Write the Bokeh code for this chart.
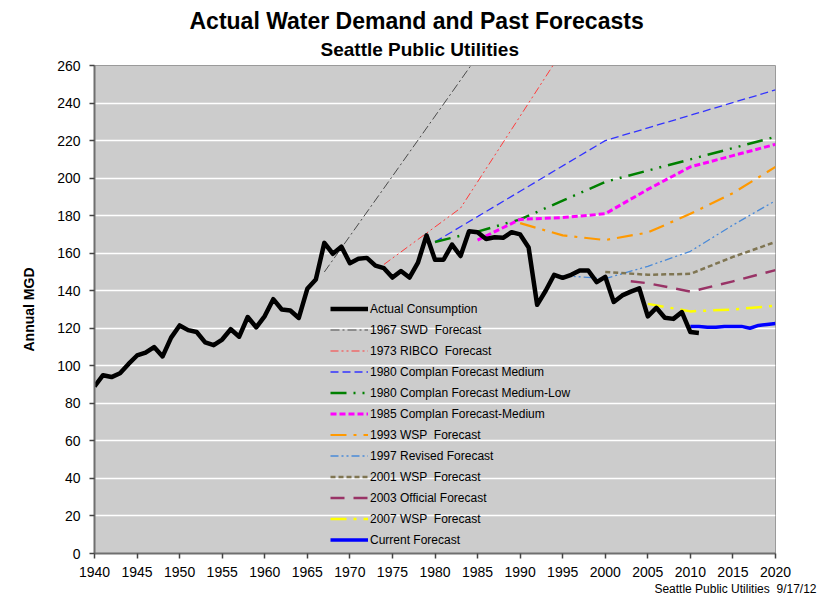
from bokeh.plotting import figure
from bokeh.models import Title, Legend, LegendItem, SingleIntervalTicker, Range1d
from bokeh.embed import file_html
from bokeh.resources import INLINE

# ---------------- data ----------------
actual_years = list(range(1940, 2012))
actual_mgd = [89, 95, 94, 96, 101, 105.5, 107, 110, 105, 115,
              121.5, 119, 118, 112.5, 111, 114, 119.5, 115.5, 126, 120.5,
              126.5, 135.5, 130, 129.5, 125.5, 141, 146, 165.5, 159.7, 163.5,
              154.7, 157, 157.5, 153.4, 152, 147, 150.5, 147, 155, 169.5,
              156.5, 156.5, 164.6, 158.5, 171.7, 171.2, 167.6, 168.5, 168.2, 171.2,
              170, 163, 132.5, 140, 148.5, 146.9, 148.5, 150.8, 150.8, 144.6,
              147.4, 134, 137.5, 139.5, 141.3, 126.3, 130.9, 125.6, 125, 128.6,
              118, 117.5]

swd1967_years = [1967, 1975, 1985]
swd1967_mgd = [150, 201, 265]

ribco1973_years = [1974, 1983, 1990, 2000]
ribco1973_mgd = [154, 184, 233, 303]

complan80m_years = [1980, 1990, 2000, 2010, 2020]
complan80m_mgd = [166, 193, 220, 233.5, 247]

complan80ml_years = [1980, 1985, 1990, 1995, 2000, 2005, 2010, 2015, 2020]
complan80ml_mgd = [166, 171.5, 178, 188, 198, 204, 210, 216, 222]

complan85_years = [1985, 1990, 1995, 2000, 2005, 2010, 2015, 2020]
complan85_mgd = [167, 178, 179, 181, 194, 206, 212, 218]

wsp1993_years = [1990, 1995, 2000, 2005, 2010, 2015, 2020]
wsp1993_mgd = [176, 169.5, 167, 171, 181, 192, 206]

rev1997_years = [1995, 2000, 2005, 2010, 2015, 2020]
rev1997_mgd = [148, 146.5, 153, 161, 175, 188]

wsp2001_years = [2000, 2005, 2010, 2015, 2020]
wsp2001_mgd = [150, 148.5, 149, 158, 166]

off2003_years = [2003, 2005, 2010, 2015, 2020]
off2003_mgd = [145, 144, 139.5, 145, 151]

wsp2007_years = [2005, 2010, 2015, 2020]
wsp2007_mgd = [133, 129, 130, 132]

current_years = list(range(2010, 2021))
current_mgd = [121, 121, 120.5, 120.5, 121, 121, 121, 120, 121.5, 122, 122.5]

series_labels = ["Actual Consumption", "1967 SWD  Forecast", "1973 RIBCO  Forecast",
                 "1980 Complan Forecast Medium", "1980 Complan Forecast Medium-Low",
                 "1985 Complan Forecast-Medium", "1993 WSP  Forecast",
                 "1997 Revised Forecast", "2001 WSP  Forecast", "2003 Official Forecast",
                 "2007 WSP  Forecast", "Current Forecast"]

FONT = "Liberation Sans"

p = figure(width=818, height=596, output_backend="svg", toolbar_location=None,
           x_range=Range1d(1940, 2020), y_range=Range1d(0, 260),
           min_border_left=94, min_border_right=43, min_border_top=65, min_border_bottom=43,
           title=None)

p.background_fill_color = "#cccccc"
p.border_fill_color = "white"
p.outline_line_color = "#9a9a9a"
p.xgrid.visible = False
p.ygrid.grid_line_color = "white"
p.ygrid.grid_line_width = 1.5

# titles (first added is nearest to the frame)
p.add_layout(Title(text="Seattle Public Utilities", text_font=FONT, text_font_size="19px",
                   text_font_style="bold", text_color="black", align="left", offset=226,
                   standoff=11), "above")
p.add_layout(Title(text="Actual Water Demand and Past Forecasts", text_font=FONT,
                   text_font_size="23px", text_font_style="bold", text_color="black",
                   align="left", offset=95, standoff=-5), "above")
p.add_layout(Title(text="Seattle Public Utilities\u00a0 9/17/12", text_font=FONT,
                   text_font_size="12px", text_font_style="normal", text_color="black",
                   align="right", offset=-41, standoff=1), "below")

# axes
p.xaxis.ticker = SingleIntervalTicker(interval=5)
p.yaxis.ticker = SingleIntervalTicker(interval=20)
for ax in (p.xaxis, p.yaxis):
    ax.minor_tick_line_color = None
    ax.major_tick_in = 0
    ax.major_tick_out = 5
    ax.axis_line_color = "#6f6f6f"
    ax.axis_line_width = 2
    ax.major_tick_line_color = "#444444"
    ax.major_tick_line_width = 1.5
    ax.major_label_text_font = FONT
    ax.major_label_text_font_size = "14px"
    ax.major_label_text_color = "black"
p.xaxis.major_label_standoff = 8
p.yaxis.major_label_standoff = 9
p.yaxis.axis_label = "Annual MGD"
p.yaxis.axis_label_text_font = FONT
p.yaxis.axis_label_text_font_size = "14px"
p.yaxis.axis_label_text_font_style = "bold"
p.yaxis.axis_label_text_color = "black"
p.yaxis.axis_label_standoff = 17

# series
specs = [
    (actual_years, actual_mgd, "black", 4.5, "solid"),
    (swd1967_years, swd1967_mgd, "#4a4a4a", 1, "9 3 2 3"),
    (ribco1973_years, ribco1973_mgd, "#ff3b3b", 1, "8 3 2 3 2 3"),
    (complan80m_years, complan80m_mgd, "#3333ff", 1.3, "8 4"),
    (complan80ml_years, complan80ml_mgd, "#008000", 2.5, "16 7 2 7 2 7"),
    (complan85_years, complan85_mgd, "#ff00ff", 3, "6 3"),
    (wsp1993_years, wsp1993_mgd, "#ff9900", 2.2, "16 7 3 7"),
    (rev1997_years, rev1997_mgd, "#4a8ad8", 1.3, "8 3 2 3 2 3"),
    (wsp2001_years, wsp2001_mgd, "#7f7552", 2.5, "5 3"),
    (off2003_years, off2003_mgd, "#993366", 2.5, "14 9"),
    (wsp2007_years, wsp2007_mgd, "#ffff00", 2.5, "16 7 3 7"),
    (current_years, current_mgd, "#0000ff", 3.5, "solid"),
]

items = []
renderers = []
for (xs, ys, col, w, dash), lab in zip(specs, series_labels):
    r = p.line(xs, ys, line_color=col, line_width=w, line_dash=dash,
               line_join="round", line_cap="butt")
    renderers.append(r)
    items.append(LegendItem(label=lab, renderers=[r]))

# draw actual on top
p.renderers.remove(renderers[0])
p.renderers.append(renderers[0])

legend = Legend(items=items, location=(236, 4), orientation="vertical",
                background_fill_alpha=0, border_line_alpha=0,
                label_text_font=FONT, label_text_font_size="12px",
                label_text_color="black", glyph_width=38, glyph_height=19,
                label_height=19, spacing=2, padding=0, margin=0, label_standoff=2)
p.add_layout(legend)

open("out.html", "w").write(file_html(p, INLINE))
